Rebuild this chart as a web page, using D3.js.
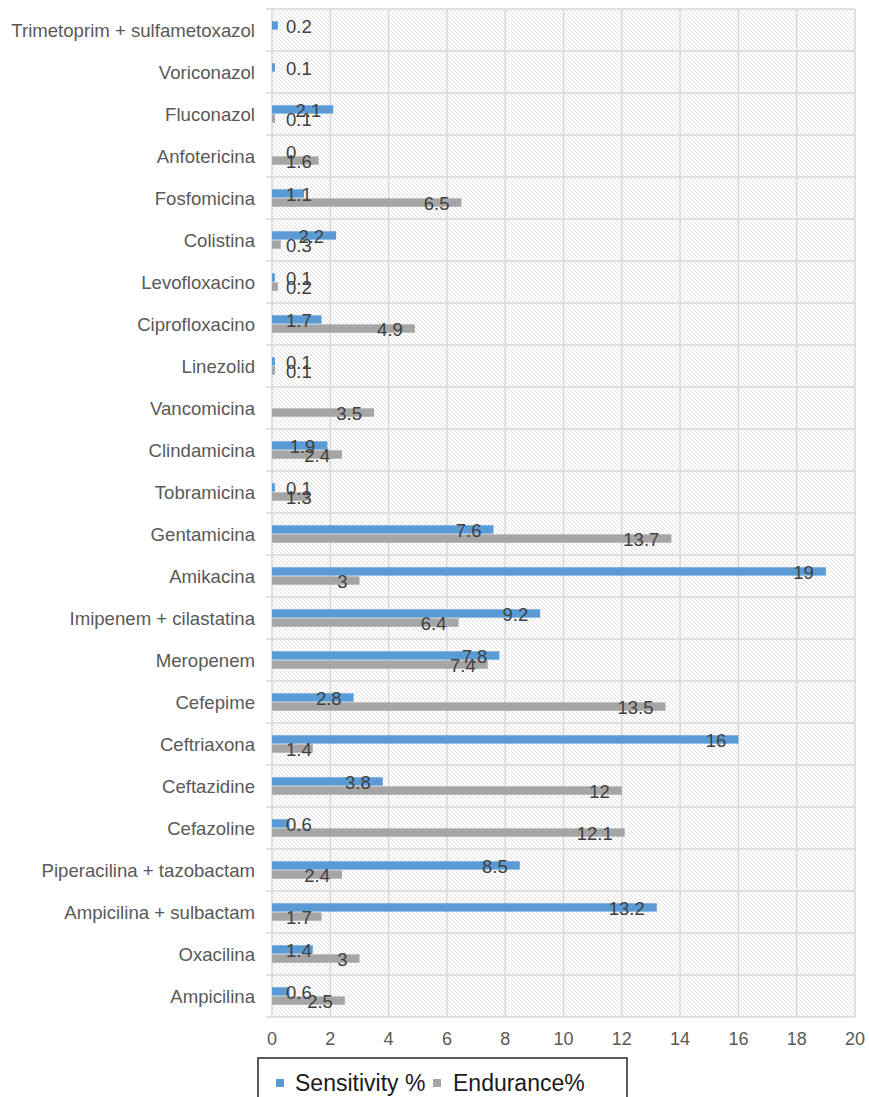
<!DOCTYPE html>
<html>
<head>
<meta charset="utf-8">
<script src="https://cdn.jsdelivr.net/npm/d3@7"></script>
<style>
html,body{margin:0;padding:0;background:#fff;}
svg{display:block;font-family:"Liberation Sans",Arial,sans-serif;}
</style>
</head>
<body>
<svg id="chart" width="869" height="1097"></svg>
<script>
const categories = [
  "Trimetoprim + sulfametoxazol","Voriconazol","Fluconazol","Anfotericina","Fosfomicina",
  "Colistina","Levofloxacino","Ciprofloxacino","Linezolid","Vancomicina","Clindamicina",
  "Tobramicina","Gentamicina","Amikacina","Imipenem + cilastatina","Meropenem","Cefepime",
  "Ceftriaxona","Ceftazidine","Cefazoline","Piperacilina + tazobactam","Ampicilina + sulbactam",
  "Oxacilina","Ampicilina"
];
const sensitivity = [0.2,0.1,2.1,0,1.1,2.2,0.1,1.7,0.1,null,1.9,0.1,7.6,19,9.2,7.8,2.8,16,3.8,0.6,8.5,13.2,1.4,0.6];
const endurance   = [null,null,0.1,1.6,6.5,0.3,0.2,4.9,0.1,3.5,2.4,1.3,13.7,3,6.4,7.4,13.5,1.4,12,12.1,2.4,1.7,3,2.5];
const seriesNames = ["Sensitivity %","Endurance%"];
const seriesColors = ["#5B9BD5","#A5A5A5"];
const xTicks = [0,2,4,6,8,10,12,14,16,18,20];

(function(){
const svg = d3.select("#chart");
const pL = 272, pR = 855, pT = 9, pB = 1017;

const defs = svg.append("defs");
const pat = defs.append("pattern").attr("id","hatch").attr("patternUnits","userSpaceOnUse")
  .attr("width",4).attr("height",4);
pat.append("rect").attr("width",4).attr("height",4).attr("fill","#fff");
pat.append("path").attr("d","M-1,-1 L5,5 M-1,3 L1,5 M3,-1 L5,1")
  .attr("stroke","#e0e0e0").attr("stroke-width",1);

const x = d3.scaleLinear().domain([0,20]).range([pL,pR]);
const y = d3.scaleBand().domain(categories).range([pT,pB]).paddingInner(0).paddingOuter(0);
const yi = d3.scaleBand().domain([0,1]).range([0,y.bandwidth()]).paddingInner(0.08).paddingOuter(1.35);

svg.append("rect").attr("x",pL).attr("y",pT).attr("width",pR-pL).attr("height",pB-pT)
  .attr("fill","url(#hatch)");

const g = svg.append("g");
g.selectAll("line.v").data(xTicks).join("line")
  .attr("x1",d=>x(d)).attr("x2",d=>x(d)).attr("y1",pT).attr("y2",pB)
  .attr("stroke","#d9d9d9").attr("stroke-width",1.5);
const hLines = categories.map(c=>y(c)).concat([pB]);
g.selectAll("line.h").data(hLines).join("line")
  .attr("x1",pL-6).attr("x2",pR).attr("y1",d=>d).attr("y2",d=>d)
  .attr("stroke","#d9d9d9").attr("stroke-width",1.5);

const rows = [];
categories.forEach((c,i)=>{
  [sensitivity[i],endurance[i]].forEach((v,s)=>{
    if (v!==null) rows.push({c,s,v});
  });
});
svg.append("g").selectAll("rect").data(rows).join("rect")
  .attr("x",pL).attr("y",d=>y(d.c)+yi(d.s))
  .attr("width",d=>x(d.v)-pL).attr("height",yi.bandwidth())
  .attr("fill",d=>seriesColors[d.s]);

const lab = svg.append("g").selectAll("text").data(rows).join("text")
  .attr("y",d=>y(d.c)+yi(d.s)+yi.bandwidth()/2+1)
  .attr("dominant-baseline","central")
  .attr("font-size",18.5).attr("fill","#404040")
  .text(d=>d.v);
lab.each(function(d){
  const w = this.getComputedTextLength();
  const sx = Math.max(x(d.v)-12-w, pL+14);
  d3.select(this).attr("x",sx);
});

svg.append("g").selectAll("text").data(categories).join("text")
  .attr("x",255).attr("y",d=>y(d)+y.bandwidth()/2)
  .attr("text-anchor","end").attr("dominant-baseline","central")
  .attr("font-size",18.6).attr("fill","#595959").text(d=>d);

svg.append("g").selectAll("text").data(xTicks).join("text")
  .attr("x",d=>x(d)).attr("y",1039).attr("text-anchor","middle").attr("dominant-baseline","central")
  .attr("font-size",18).attr("fill","#595959").text(d=>d);

svg.append("rect").attr("x",258).attr("y",1058).attr("width",369).attr("height",60)
  .attr("fill","#fff").attr("stroke","#262626").attr("stroke-width",1.5);
const legX = [276,433], legT = [295,453];
seriesNames.forEach((n,i)=>{
  svg.append("rect").attr("x",legX[i]).attr("y",1079).attr("width",8).attr("height",8).attr("fill",seriesColors[i]);
  svg.append("text").attr("x",legT[i]).attr("y",1083).attr("dominant-baseline","central")
    .attr("font-size",23).attr("fill","#1a1a1a").text(n);
});
})();
</script>
</body>
</html>
